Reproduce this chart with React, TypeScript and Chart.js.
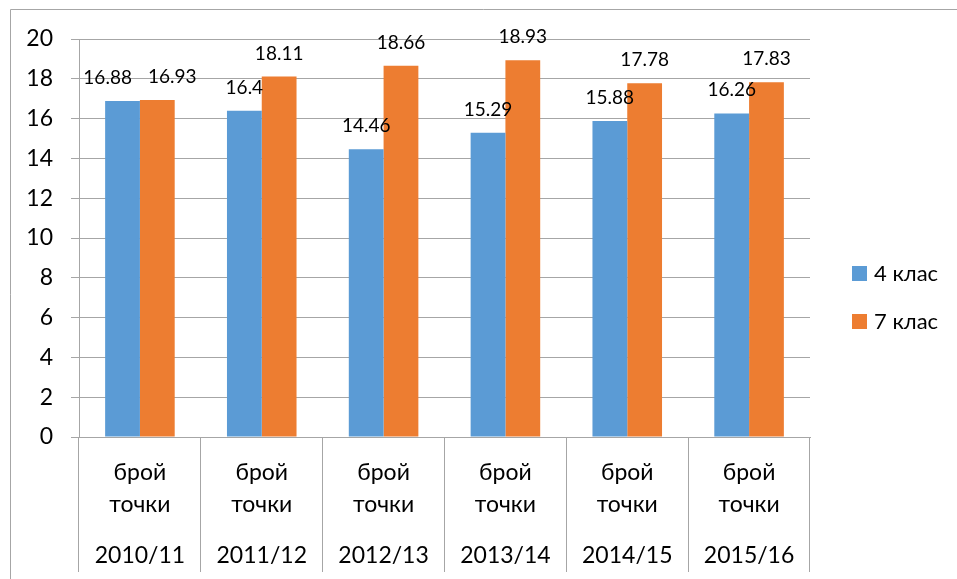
import React, { useEffect, useRef } from "react";
import { Chart, registerables } from "chart.js";

Chart.register(...registerables);

const categories = ["2010/11", "2011/12", "2012/13", "2013/14", "2014/15", "2015/16"];
const subLabelLines = ["брой", "точки"];
const seriesNames = ["4 клас", "7 клас"];
const class4 = [16.88, 16.4, 14.46, 15.29, 15.88, 16.26];
const class7 = [16.93, 18.11, 18.66, 18.93, 17.78, 17.83];
const seriesColors = ["#5B9BD5", "#ED7D31"];
const yMin = 0;
const yMax = 20;
const yStep = 2;

const FONT = 'Lato, "Open Sans", "DejaVu Sans", sans-serif';
const GRID = "#A6A6A6";

const overlayPlugin = {
  id: "overlay",
  afterDraw(chart: any) {
    const ctx = chart.ctx;
    const area = chart.chartArea;
    const xScale = chart.scales.x;
    ctx.save();

    // outer border (left and top)
    ctx.strokeStyle = GRID;
    ctx.lineWidth = 1;
    ctx.beginPath();
    ctx.moveTo(10.5, chart.height);
    ctx.lineTo(10.5, 9.5);
    ctx.lineTo(chart.width, 9.5);
    ctx.stroke();

    // data labels
    ctx.font = `19px ${FONT}`;
    ctx.fillStyle = "#000";
    ctx.textAlign = "center";
    ctx.textBaseline = "alphabetic";
    const metas = chart.data.datasets.map((_: any, d: number) => chart.getDatasetMeta(d));
    for (let i = 0; i < categories.length; i++) {
      const boxes = metas.map((m: any, d: number) => {
        const el = m.data[i];
        const v = chart.data.datasets[d].data[i];
        const text = String(v);
        return { x: el.x, y: el.y - 17, w: ctx.measureText(text).width, text };
      });
      for (let a = 0; a < boxes.length - 1; a++) {
        const A = boxes[a];
        const B = boxes[a + 1];
        const gap = 16;
        const minDist = (A.w + B.w) / 2 + gap;
        if (Math.abs(A.y - B.y) < 20 && B.x - A.x < minDist) {
          const need = minDist - (B.x - A.x);
          A.x -= need / 2;
          B.x += need / 2;
        }
      }
      boxes.forEach((b: any) => ctx.fillText(b.text, b.x, b.y));
    }

    // category labels (two levels)
    ctx.font = `23px ${FONT}`;
    const axisY = xScale.top;
    for (let i = 0; i < categories.length; i++) {
      const x = xScale.getPixelForValue(i);
      ctx.fillText(subLabelLines[0], x, axisY + 43);
      ctx.fillText(subLabelLines[1], x, axisY + 75);
      ctx.fillText(categories[i], x, axisY + 126);
    }

    // legend
    ctx.font = `22px ${FONT}`;
    ctx.textAlign = "left";
    ctx.textBaseline = "middle";
    const lx = area.right + 42;
    const ly0 = 266;
    seriesNames.forEach((name, k) => {
      const y = ly0 + k * 48;
      ctx.fillStyle = seriesColors[k];
      ctx.fillRect(lx, y, 15, 15);
      ctx.fillStyle = "#000";
      ctx.fillText(name, lx + 22, y + 8);
    });

    ctx.restore();
  },
};

export default function App() {
  const ref = useRef<HTMLCanvasElement>(null);
  useEffect(() => {
    if (!ref.current) return;
    const chart = new Chart(ref.current, {
      type: "bar",
      data: {
        labels: categories,
        datasets: [
          { label: seriesNames[0], data: class4, backgroundColor: seriesColors[0], categoryPercentage: 0.571, barPercentage: 1 },
          { label: seriesNames[1], data: class7, backgroundColor: seriesColors[1], categoryPercentage: 0.571, barPercentage: 1 },
        ],
      },
      options: {
        responsive: false,
        animation: false,
        layout: { padding: { top: 39, right: 147, bottom: 7, left: 0 } },
        plugins: { legend: { display: false }, tooltip: { enabled: false } },
        scales: {
          x: {
            offset: true,
            grid: { offset: true, drawOnChartArea: false, drawTicks: true, tickLength: 135, color: GRID },
            border: { display: true, color: GRID },
            ticks: { display: false },
            afterFit: (s: any) => {
              s.height = 135;
            },
          },
          y: {
            min: yMin,
            max: yMax,
            ticks: { stepSize: yStep, color: "#000", font: { family: FONT, size: 23 }, padding: 18 },
            grid: { color: GRID, tickLength: 8 },
            border: { display: true, color: GRID },
            afterFit: (s: any) => {
              s.width = 79;
            },
          },
        },
      },
      plugins: [overlayPlugin],
    });
    return () => chart.destroy();
  }, []);
  return (
    <div style={{ position: "fixed", left: 0, top: 0, width: 957, height: 579, background: "#fff" }}>
      <canvas ref={ref} width={957} height={579} style={{ display: "block" }} />
    </div>
  );
}
